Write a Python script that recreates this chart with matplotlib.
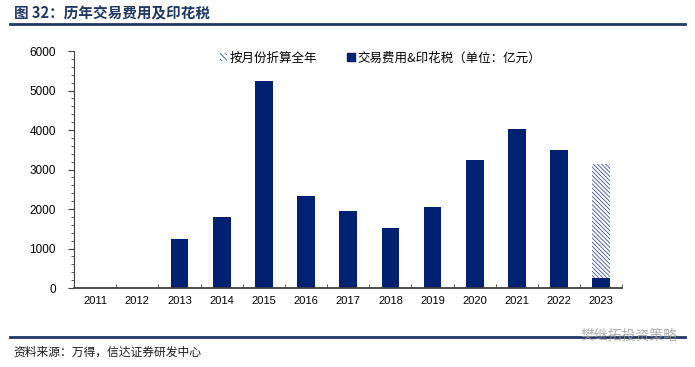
import matplotlib.pyplot as plt
from matplotlib.patches import Patch
from matplotlib.ticker import MultipleLocator

plt.rcParams["font.family"] = ["Noto Sans CJK SC", "DejaVu Sans"]
plt.rcParams["hatch.linewidth"] = 0.6

years = ["2011", "2012", "2013", "2014", "2015", "2016", "2017",
         "2018", "2019", "2020", "2021", "2022", "2023"]
fees = [0, 0, 1230, 1790, 5240, 2320, 1950, 1530, 2060, 3230, 4025, 3500, 260]
annualized = [0, 0, 0, 0, 0, 0, 0, 0, 0, 0, 0, 0, 3130]

navy = "#002072"
title_color = "#1F3864"

fig = plt.figure(figsize=(6.95, 3.67), dpi=100)
ax = fig.add_axes([0.1065, 0.215, 0.789, 0.646])

x = range(len(years))
# annualized estimate (hatched), drawn behind actual values
ax.bar(x, annualized, width=0.42, color="white", edgecolor="#3a55a0",
       hatch="\\" * 8, linewidth=0, zorder=1)
ax.bar(x, fees, width=0.42, color=navy, zorder=2)

ax.set_xlim(-0.5, len(years) - 0.5)
ax.set_ylim(0, 6000)
ax.yaxis.set_major_locator(MultipleLocator(1000))
ax.yaxis.set_minor_locator(MultipleLocator(200))
ax.set_xticks(list(x))
ax.set_xticklabels(years)
ax.set_xticks([i + 0.5 for i in range(len(years))], minor=True)
ax.tick_params(axis="x", which="major", length=0, labelsize=8, pad=6)
ax.tick_params(axis="x", which="minor", length=3, direction="in", color="#404040")
ax.tick_params(axis="y", which="major", length=4, direction="out", labelsize=8.5,
               color="#404040", pad=9)
ax.tick_params(axis="y", which="minor", length=2, direction="out", color="#404040")
for lab in ax.get_yticklabels():
    lab.set_family(["Liberation Sans", "DejaVu Sans"])
for lab in ax.get_xticklabels():
    lab.set_family(["Liberation Sans", "DejaVu Sans"])

for side in ["top", "right"]:
    ax.spines[side].set_visible(False)
ax.spines["left"].set_color("#404040")
ax.spines["bottom"].set_color("#404040")
ax.spines["bottom"].set_linewidth(1.3)

handles = [
    Patch(facecolor="white", edgecolor="#3a55a0", hatch="\\" * 6, linewidth=0),
    Patch(facecolor=navy, edgecolor=navy),
]
ax.legend(handles, ["按月份折算全年", "交易费用&印花税（单位：亿元）"],
          loc="upper left", bbox_to_anchor=(0.245, 1.045), ncol=2, frameon=False,
          fontsize=9, handlelength=0.6, handleheight=0.6, handletextpad=0.2,
          columnspacing=2.4)

# header and footer
fig.text(0.02, 0.963, "图 32：历年交易费用及印花税", fontsize=10.5, fontweight="bold",
         color=title_color, va="center")
fig.add_artist(plt.Line2D([0.014, 0.985], [0.934, 0.934], color=title_color, lw=2))
fig.add_artist(plt.Line2D([0.014, 0.985], [0.082, 0.082], color=title_color, lw=2))
fig.text(0.02, 0.04, "资料来源：万得，信达证券研发中心", fontsize=8.5, style="italic",
         color="#1a1a1a", va="center")
fig.text(0.975, 0.085, "樊继拓投资策略", fontsize=10, color="#9a9a9a", ha="right",
         va="center", alpha=0.8)

fig.savefig("out.png", dpi=100)
